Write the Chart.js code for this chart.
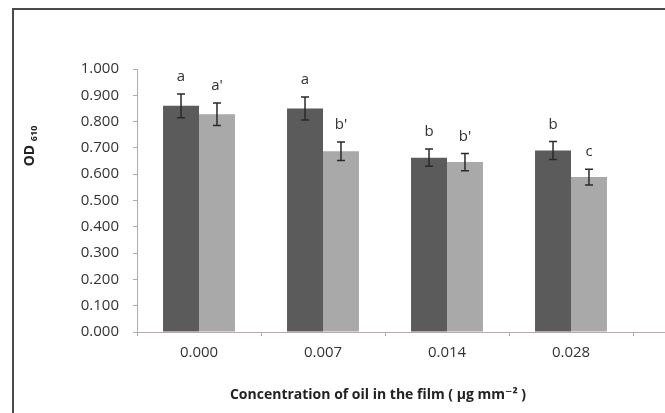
<!DOCTYPE html>
<html>
<head>
<meta charset="utf-8">
<script src="https://cdn.jsdelivr.net/npm/chart.js@4"></script>
<style>
    html, body { margin: 0; padding: 0; background: #ffffff; }
    #wrap { width: 665px; height: 413px; position: relative; }
</style>
</head>
<body>
<div id="wrap"><canvas id="odChart"></canvas></div>
<script>
// Chart data
const categories = ['0.000', '0.007', '0.014', '0.028'];
const darkValues = [0.860, 0.850, 0.663, 0.690];
const darkErrors = [0.045, 0.044, 0.033, 0.034];
const darkLetters = ['a', 'a', 'b', 'b'];
const lightValues = [0.828, 0.687, 0.646, 0.589];
const lightErrors = [0.043, 0.035, 0.033, 0.030];
const lightLetters = ["a'", "b'", "b'", 'c'];
const yTicks = [0, 0.1, 0.2, 0.3, 0.4, 0.5, 0.6, 0.7, 0.8, 0.9, 1.0];

const FONT = '"Open Sans", "DejaVu Sans", sans-serif';

// Error bars + significance letters on top of each bar
const errorBarPlugin = {
    id: 'errorBars',
    afterDatasetsDraw(chart) {
        const ctx = chart.ctx;
        const yScale = chart.scales.y;
        ctx.save();
        chart.data.datasets.forEach(function(ds, i) {
            const meta = chart.getDatasetMeta(i);
            meta.data.forEach(function(bar, j) {
                const v = ds.data[j];
                const e = ds.errors[j];
                const top = yScale.getPixelForValue(v + e);
                const bot = yScale.getPixelForValue(v - e);
                ctx.strokeStyle = '#2a2a2a';
                ctx.lineWidth = 1.5;
                ctx.beginPath();
                ctx.moveTo(bar.x, top);
                ctx.lineTo(bar.x, bot);
                ctx.moveTo(bar.x - 4, top);
                ctx.lineTo(bar.x + 4, top);
                ctx.moveTo(bar.x - 4, bot);
                ctx.lineTo(bar.x + 4, bot);
                ctx.stroke();

                ctx.fillStyle = '#333333';
                ctx.font = '15px ' + FONT;
                ctx.textAlign = 'center';
                ctx.textBaseline = 'middle';
                ctx.fillText(ds.letters[j], bar.x, top - 17);
            });
        });
        ctx.restore();
    }
};

// Frame, extended x-axis line and axis titles
const decorPlugin = {
    id: 'decor',
    afterDraw(chart) {
        const ctx = chart.ctx;
        const area = chart.chartArea;
        ctx.save();
        // frame on left and top
        ctx.strokeStyle = '#4a4a4a';
        ctx.lineWidth = 2;
        ctx.beginPath();
        ctx.moveTo(13, chart.height);
        ctx.lineTo(13, 9);
        ctx.lineTo(chart.width, 9);
        ctx.stroke();

        // x axis line runs on to the right edge
        ctx.strokeStyle = '#b3abab';
        ctx.lineWidth = 1;
        ctx.beginPath();
        ctx.moveTo(area.right, area.bottom + 0.5);
        ctx.lineTo(chart.width, area.bottom + 0.5);
        ctx.stroke();

        // y title "OD 610"
        ctx.fillStyle = '#222222';
        ctx.translate(34, 146);
        ctx.rotate(-Math.PI / 2);
        ctx.textBaseline = 'alphabetic';
        ctx.textAlign = 'left';
        ctx.font = 'bold 14px ' + FONT;
        const w1 = ctx.measureText('OD ').width;
        ctx.font = 'bold 9px ' + FONT;
        const w2 = ctx.measureText('610').width;
        const x0 = -(w1 + w2) / 2;
        ctx.font = 'bold 14px ' + FONT;
        ctx.fillText('OD ', x0, 0);
        ctx.font = 'bold 9px ' + FONT;
        ctx.fillText('610', x0 + w1, 3);
        ctx.restore();

        // x title
        ctx.save();
        ctx.fillStyle = '#222222';
        ctx.font = 'bold 14px ' + FONT;
        ctx.textAlign = 'center';
        ctx.textBaseline = 'middle';
        ctx.fillText('Concentration of oil in the film ( \u00b5g mm\u207b\u00b2 )', 378, 395);
        ctx.restore();
    }
};

new Chart(document.getElementById('odChart'), {
    type: 'bar',
    data: {
        labels: categories,
        datasets: [{
            label: 'Dark',
            data: darkValues,
            errors: darkErrors,
            letters: darkLetters,
            backgroundColor: '#5b5b5b',
            categoryPercentage: 0.58,
            barPercentage: 1.0
        }, {
            label: 'Light',
            data: lightValues,
            errors: lightErrors,
            letters: lightLetters,
            backgroundColor: '#a9a9a9',
            categoryPercentage: 0.58,
            barPercentage: 1.0
        }]
    },
    options: {
        responsive: true,
        maintainAspectRatio: false,
        animation: false,
        layout: {
            padding: { left: 0, right: 32, top: 69, bottom: 0 }
        },
        scales: {
            x: {
                grid: {
                    display: true,
                    drawOnChartArea: false,
                    drawTicks: true,
                    tickLength: 4,
                    color: '#b3abab',
                    offset: true
                },
                border: { color: '#b3abab' },
                ticks: {
                    color: '#333333',
                    font: { family: FONT, size: 15 },
                    padding: 8
                },
                afterFit: function(scale) { scale.height = 81; }
            },
            y: {
                min: 0,
                max: 1,
                afterBuildTicks: function(scale) {
                    scale.ticks = yTicks.map(function(v) { return { value: v }; });
                },
                grid: {
                    display: true,
                    drawOnChartArea: false,
                    tickLength: 4,
                    color: '#b3abab'
                },
                border: { color: '#b3abab' },
                ticks: {
                    color: '#333333',
                    font: { family: FONT, size: 15 },
                    padding: 14,
                    callback: function(value) { return Number(value).toFixed(3); }
                },
                afterFit: function(scale) { scale.width = 137; }
            }
        },
        plugins: {
            legend: { display: false },
            tooltip: { enabled: false }
        }
    },
    plugins: [errorBarPlugin, decorPlugin]
});
</script>
</body>
</html>
